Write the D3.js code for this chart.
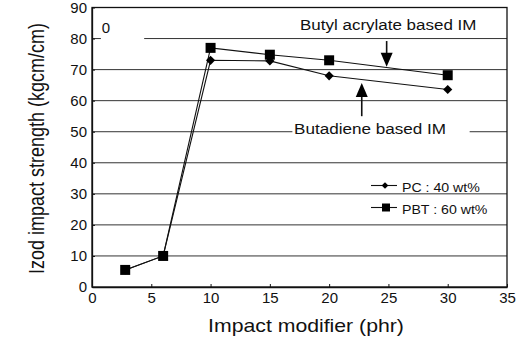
<!DOCTYPE html>
<html>
<head>
<meta charset="utf-8">
<script src="https://cdn.jsdelivr.net/npm/d3@7"></script>
<style>
  body { margin: 0; background: #fff; }
  text { font-family: Arial, "Liberation Sans", sans-serif; fill: #111; }
</style>
</head>
<body>
<div id="chart"></div>
<script>
var width = 528, height = 340;

// impact modifier content (phr)
var modifier = [2.8, 6, 10, 15, 20, 30];
// Izod impact strength (kgcm/cm)
var pcSeries = [5.5, 10, 73, 72.8, 68, 63.6];      // diamonds
var pbtSeries = [5.5, 10, 77, 74.8, 73, 68.2];     // squares
var xTicks = [0, 5, 10, 15, 20, 25, 30, 35];
var yTicks = [0, 10, 20, 30, 40, 50, 60, 70, 80, 90];
var gridValues = [10, 20, 30, 40, 60, 70];
var legendLabels = ["PC : 40 wt%", "PBT : 60 wt%"];

var svg = d3.select("#chart").append("svg")
  .attr("width", width)
  .attr("height", height);

var x = d3.scaleLinear().domain([0, 35]).range([92, 507]);
var y = d3.scaleLinear().domain([0, 90]).range([287, 7.5]);

// gridlines
svg.selectAll(".grid")
  .data(gridValues)
  .enter().append("line")
    .attr("x1", x(0)).attr("x2", x(35))
    .attr("y1", y).attr("y2", y)
    .attr("stroke", "#333").attr("stroke-width", 1);

// broken gridlines at 80 and 50 (gaps left for labels)
var broken = [[80, 0, 0.75], [80, 4.4, 35], [50, 0, 16.9], [50, 31.85, 35]];
svg.selectAll(".gridb")
  .data(broken)
  .enter().append("line")
    .attr("x1", function(d) { return x(d[1]); })
    .attr("x2", function(d) { return x(d[2]); })
    .attr("y1", function(d) { return y(d[0]); })
    .attr("y2", function(d) { return y(d[0]); })
    .attr("stroke", "#333").attr("stroke-width", 1);

// frame
svg.append("rect")
  .attr("x", x(0)).attr("y", y(90))
  .attr("width", x(35) - x(0)).attr("height", y(0) - y(90))
  .attr("fill", "none").attr("stroke", "#111").attr("stroke-width", 1.3);

// axes
var xAxis = svg.append("g")
  .attr("transform", "translate(0," + y(0) + ")")
  .call(d3.axisBottom(x).tickValues(xTicks).tickSizeInner(-3).tickSizeOuter(0).tickPadding(5));
var yAxis = svg.append("g")
  .attr("transform", "translate(" + x(0) + ",0)")
  .call(d3.axisLeft(y).tickValues(yTicks).tickSizeInner(-3).tickSizeOuter(0).tickPadding(5));
[xAxis, yAxis].forEach(function(g) {
  g.select(".domain").attr("stroke", "#111").attr("stroke-width", 1.3);
  g.selectAll(".tick line").attr("stroke", "#111");
  g.selectAll("text").attr("font-size", 15).attr("fill", "#111")
    .style("font-family", "Arial, 'Liberation Sans', sans-serif");
});

// axis titles
svg.append("text")
  .attr("transform", "translate(306,332) scale(1.18,1)")
  .attr("text-anchor", "middle")
  .attr("font-size", 18)
  .text("Impact modifier (phr)");

svg.append("text")
  .attr("transform", "translate(43.5,148.5) scale(1.18,1) rotate(-90)")
  .attr("text-anchor", "middle")
  .attr("font-size", 18)
  .text("Izod impact strength (kgcm/cm)");

// series
var pairs = function(vals) { return modifier.map(function(m, i) { return [m, vals[i]]; }); };
var line = d3.line().x(function(d) { return x(d[0]); }).y(function(d) { return y(d[1]); });

svg.append("path").datum(pairs(pcSeries))
  .attr("d", line).attr("fill", "none").attr("stroke", "#111").attr("stroke-width", 1.1);
svg.append("path").datum(pairs(pbtSeries))
  .attr("d", line).attr("fill", "none").attr("stroke", "#111").attr("stroke-width", 1.1);

var diamond = d3.symbol().type(d3.symbolSquare).size(42);
var square = d3.symbol().type(d3.symbolSquare).size(100);

svg.selectAll(".pc")
  .data(pairs(pcSeries))
  .enter().append("path")
    .attr("d", diamond)
    .attr("transform", function(d) { return "translate(" + x(d[0]) + "," + y(d[1]) + ") rotate(45)"; })
    .attr("fill", "#000");

svg.selectAll(".pbt")
  .data(pairs(pbtSeries))
  .enter().append("path")
    .attr("d", square)
    .attr("transform", function(d) { return "translate(" + x(d[0]) + "," + y(d[1]) + ")"; })
    .attr("fill", "#000");

// annotations
svg.append("text")
  .attr("transform", "translate(106,33)")
  .attr("text-anchor", "middle")
  .attr("font-size", 15)
  .text("0");

svg.append("text")
  .attr("transform", "translate(300,29.5) scale(1.18,1)")
  .attr("font-size", 14.4)
  .text("Butyl acrylate based IM");

svg.append("text")
  .attr("transform", "translate(294,133.5) scale(1.18,1)")
  .attr("font-size", 14.5)
  .text("Butadiene based IM");

// arrows: [x, tail, tip]
var arrows = [[24.85, 79.2, 70.9], [22.75, 55.0, 65.7]];
arrows.forEach(function(a) {
  var px = x(a[0]), tail = y(a[1]), tip = y(a[2]);
  var dir = tip > tail ? 1 : -1;
  svg.append("line")
    .attr("x1", px).attr("x2", px)
    .attr("y1", tail).attr("y2", tip - dir * 12)
    .attr("stroke", "#111").attr("stroke-width", 1.6);
  svg.append("path")
    .attr("d", "M" + px + "," + tip + "L" + (px - 6) + "," + (tip - dir * 14) +
      "L" + (px + 6) + "," + (tip - dir * 14) + "Z")
    .attr("fill", "#000");
});

// legend
var legend = svg.selectAll(".legend")
  .data(legendLabels)
  .enter().append("g")
    .attr("transform", function(d, i) { return "translate(371," + (185.5 + i * 22) + ")"; });

legend.append("line")
  .attr("x1", 0).attr("x2", 26)
  .attr("stroke", "#111").attr("stroke-width", 1.1);

legend.append("path")
  .attr("d", function(d, i) {
    return i === 0 ? d3.symbol().type(d3.symbolSquare).size(22)() : d3.symbol().type(d3.symbolSquare).size(64)();
  })
  .attr("transform", function(d, i) { return i === 0 ? "translate(14,0) rotate(45)" : "translate(15,0)"; })
  .attr("fill", "#000");

legend.append("text")
  .attr("transform", "translate(31,6) scale(1.18,1)")
  .attr("font-size", 12)
  .text(function(d) { return d; });
</script>
</body>
</html>
